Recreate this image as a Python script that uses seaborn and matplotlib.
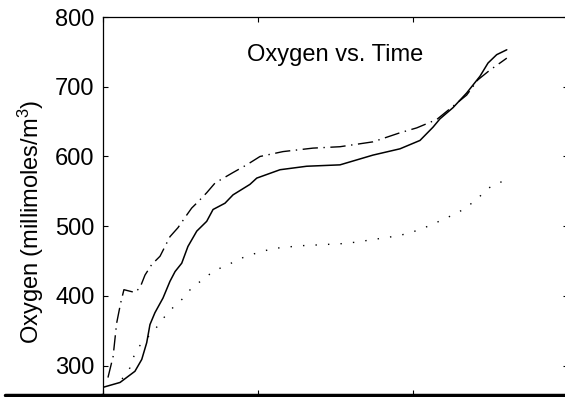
import matplotlib
matplotlib.use("Agg")
import matplotlib.pyplot as plt
import seaborn as sns
import numpy as np
import pandas as pd
from matplotlib.lines import Line2D

# ---- data (time, oxygen) ----
solid_t = [0.000, 0.110, 0.206, 0.250, 0.282, 0.303, 0.335, 0.387, 0.432, 0.465,
           0.508, 0.548, 0.605, 0.669, 0.710, 0.787, 0.839, 0.948, 0.992, 1.142,
           1.314, 1.529, 1.742, 1.916, 2.045, 2.129, 2.174, 2.258, 2.346, 2.432,
           2.484, 2.540, 2.605]
solid_o = [269, 276, 292, 309, 333, 359, 376, 397, 421, 435,
           447, 471, 493, 507, 524, 533, 545, 560, 569, 581,
           586, 588, 602, 611, 623, 642, 654, 670, 691, 715,
           734, 746, 753]

dashdot_t = [0.032, 0.065, 0.088, 0.114, 0.135, 0.206, 0.239, 0.271, 0.314, 0.368,
             0.400, 0.432, 0.484, 0.540, 0.572, 0.613, 0.669, 0.723, 0.839, 0.927,
             1.013, 1.161, 1.355, 1.529, 1.742, 1.916, 2.024, 2.153, 2.258, 2.346,
             2.419, 2.497, 2.561, 2.605]
dashdot_o = [283, 313, 361, 390, 409, 405, 412, 430, 445, 457,
             471, 485, 498, 516, 526, 535, 548, 562, 577, 588,
             600, 607, 612, 614, 621, 634, 641, 653, 672, 688,
             710, 724, 734, 741]

dotted_t = [0.123, 0.155, 0.174, 0.194, 0.226, 0.282, 0.314, 0.361, 0.400, 0.450,
            0.497, 0.540, 0.581, 0.637, 0.669, 0.723, 0.781, 0.845, 0.903, 0.968,
            1.095, 1.185, 1.271, 1.368, 1.452, 1.540, 1.626, 1.716, 1.805, 1.895,
            1.974, 2.065, 2.148, 2.217, 2.265, 2.325, 2.379, 2.437, 2.490, 2.548,
            2.606]
dotted_o = [281, 291, 297, 311, 326, 339, 347, 359, 371, 383,
            392, 403, 414, 422, 428, 437, 442, 449, 455, 460,
            468, 470, 472, 473, 474, 475, 477, 480, 483, 486,
            490, 497, 505, 512, 517, 524, 533, 544, 555, 562,
            566]

yticks = [300, 400, 500, 600, 700, 800]
xticks = [0, 1, 2, 3]
title_text = "Oxygen vs. Time"
ylabel_text = "Oxygen (millimoles/m$^3$)"

sns.set_style("ticks")
plt.rcParams["font.family"] = ["Liberation Sans", "DejaVu Sans"]
plt.rcParams["mathtext.fontset"] = "custom"
plt.rcParams["mathtext.rm"] = "Liberation Sans"
plt.rcParams["mathtext.it"] = "Liberation Sans"

fig = plt.figure(figsize=(5.65, 3.97), dpi=100)
fig.patch.set_facecolor("white")
ax = fig.add_axes([103 / 565, 2 / 397, 465 / 565, 378 / 397])
ax.set_facecolor("white")

sns.lineplot(x=solid_t, y=solid_o, ax=ax, color="black", linewidth=1.1,
             linestyle="-", sort=False, estimator=None)
sns.lineplot(x=dashdot_t, y=dashdot_o, ax=ax, color="black", linewidth=1.0,
             linestyle=(0, (11, 4, 1, 4)), sort=False, estimator=None)
sns.lineplot(x=dotted_t, y=dotted_o, ax=ax, color="black", linewidth=1.0,
             linestyle=(0, (1, 8)), sort=False, estimator=None)

ax.set_xlim(0, 3)
ax.set_ylim(258, 800)
ax.set_yticks(yticks)
ax.set_xticks(xticks)
ax.tick_params(axis="both", direction="in", length=3.5, width=0.8,
               top=True, right=True, labelsize=17, pad=6, colors="black")
ax.tick_params(axis="x", labelbottom=False)

for side in ["left", "top", "right"]:
    ax.spines[side].set_linewidth(0.9)
    ax.spines[side].set_color("black")
ax.spines["bottom"].set_linewidth(2.5)
ax.spines["bottom"].set_color("black")

ax.text(0.5, 0.9, title_text, transform=ax.transAxes, ha="center", va="center",
        fontsize=17, color="black")

ax.set_ylabel(ylabel_text, fontsize=17, color="black")
ax.yaxis.set_label_coords(-0.123, 0.458)

# thick base line extending under the tick labels
fig.add_artist(Line2D([5 / 565, 103 / 565], [2 / 397, 2 / 397],
                      transform=fig.transFigure, color="black", linewidth=2.5))

fig.savefig("out.png", dpi=100, facecolor="white")
